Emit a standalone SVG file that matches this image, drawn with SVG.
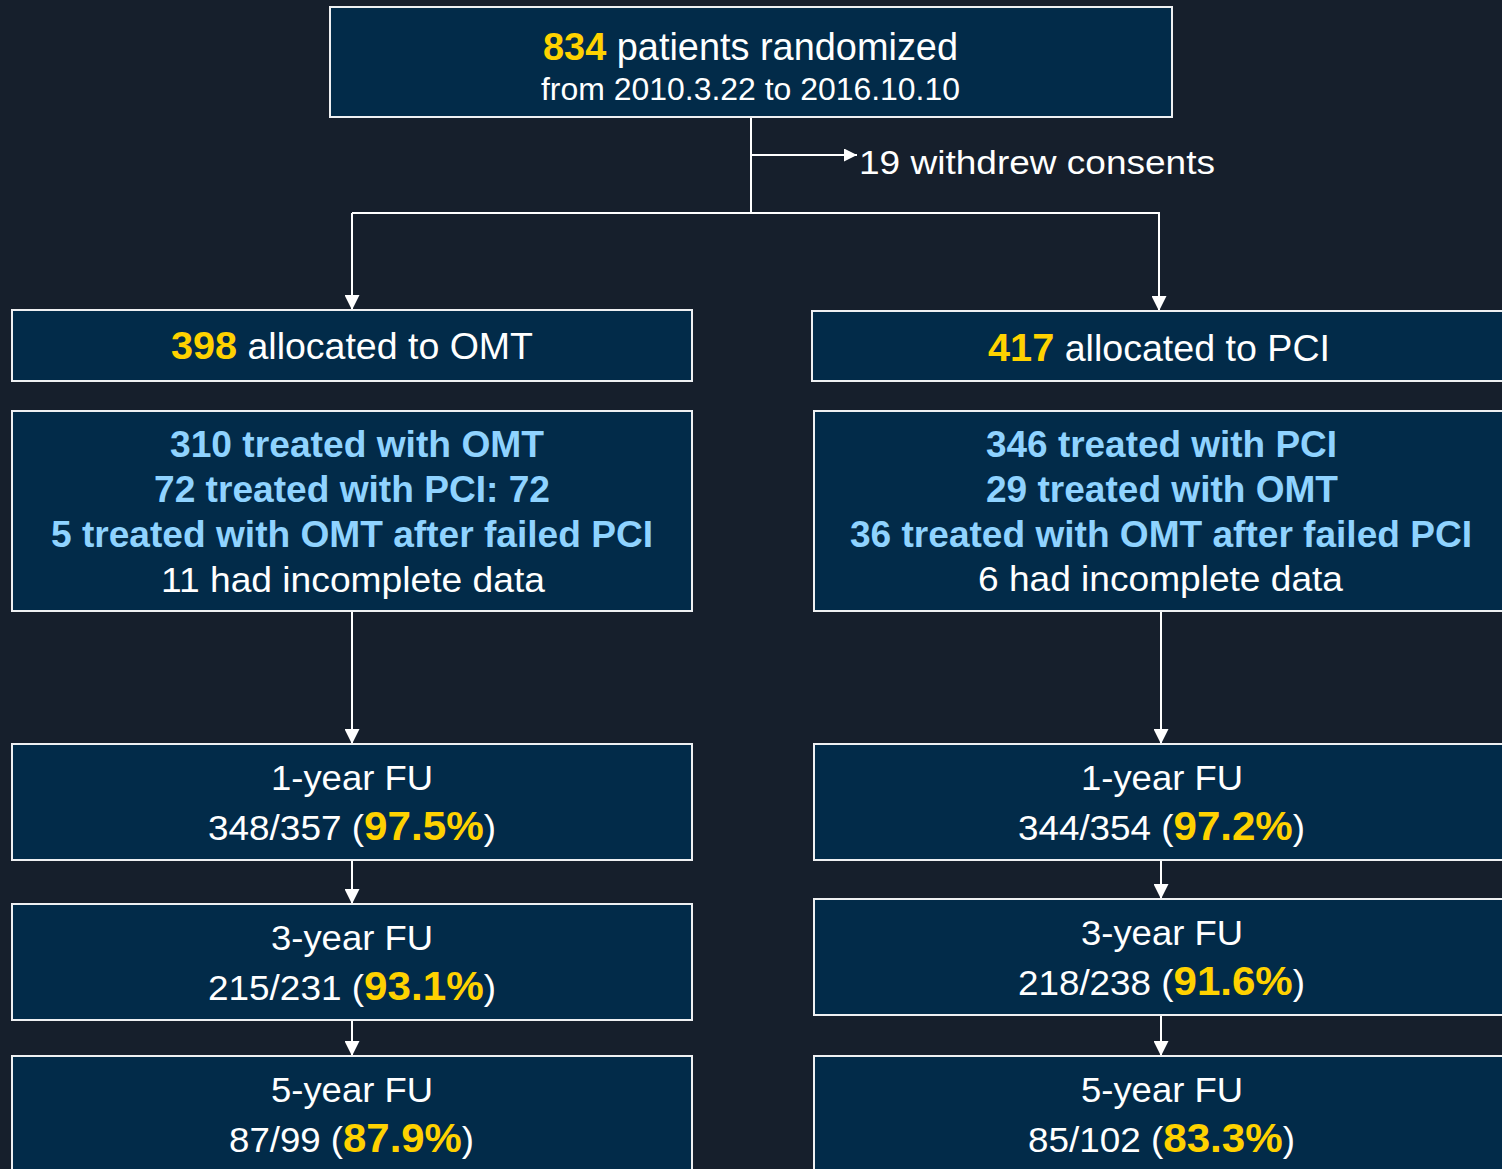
<svg xmlns="http://www.w3.org/2000/svg" width="1502" height="1169" viewBox="0 0 1502 1169">
<style>
.bg{fill:#161f2c}
.box{fill:#022b49;stroke:#eef0f2;stroke-width:2}
text{font-family:"Liberation Sans",Arial,sans-serif;fill:#ffffff}
.b{font-weight:bold}
.y{fill:#ffd200;font-weight:bold}
.lb{fill:#8fd3ff;font-weight:bold}
.conn{fill:none;stroke:#ffffff;stroke-width:2}
</style>
<defs>
<marker id="ah" viewBox="0 0 10 10" refX="10" refY="5" markerUnits="userSpaceOnUse" markerWidth="15" markerHeight="15" orient="auto">
<path d="M0,0 L10,5 L0,10 z" fill="#ffffff"/>
</marker>
<marker id="ahs" viewBox="0 0 10 10" refX="10" refY="5" markerUnits="userSpaceOnUse" markerWidth="13" markerHeight="13" orient="auto">
<path d="M0,0 L10,5 L0,10 z" fill="#ffffff"/>
</marker>
</defs>
<rect class="bg" x="0" y="0" width="1502" height="1169"/>

<g id="connectors">
<path class="conn" d="M751,118 V213"/>
<path class="conn" d="M751,155 H857" marker-end="url(#ahs)"/>
<path class="conn" d="M352,213 H1160"/>
<path class="conn" d="M352,213 V310" marker-end="url(#ah)"/>
<path class="conn" d="M1159,213 V311" marker-end="url(#ah)"/>
<path class="conn" d="M352,611 V744" marker-end="url(#ah)"/>
<path class="conn" d="M352,860 V904" marker-end="url(#ah)"/>
<path class="conn" d="M352,1020 V1056" marker-end="url(#ah)"/>
<path class="conn" d="M1161,611 V744" marker-end="url(#ah)"/>
<path class="conn" d="M1161,860 V899" marker-end="url(#ah)"/>
<path class="conn" d="M1161,1015 V1056" marker-end="url(#ah)"/>
</g>

<g id="randomized">
<rect class="box" x="330" y="7" width="842" height="110"/>
<text x="543" y="60" font-size="39" textLength="415" lengthAdjust="spacingAndGlyphs"><tspan class="y">834</tspan> patients randomized</text>
<text x="541" y="100" font-size="32" textLength="419" lengthAdjust="spacingAndGlyphs">from 2010.3.22 to 2016.10.10</text>
</g>

<g id="withdrew">
<text x="859" y="174" font-size="34" textLength="356" lengthAdjust="spacingAndGlyphs">19 withdrew consents</text>
</g>

<g id="alloc-omt">
<rect class="box" x="12" y="310" width="680" height="71"/>
<text x="171" y="359" font-size="36" textLength="362" lengthAdjust="spacingAndGlyphs"><tspan class="y" font-size="38">398</tspan> allocated to OMT</text>
</g>

<g id="alloc-pci">
<rect class="box" x="812" y="311" width="700" height="70"/>
<text x="988" y="361" font-size="36" textLength="342" lengthAdjust="spacingAndGlyphs"><tspan class="y" font-size="38">417</tspan> allocated to PCI</text>
</g>

<g id="treat-omt">
<rect class="box" x="12" y="411" width="680" height="200"/>
<text class="lb" x="170" y="457" font-size="37" textLength="374" lengthAdjust="spacingAndGlyphs">310 treated with OMT</text>
<text class="lb" x="154" y="502" font-size="37" textLength="396" lengthAdjust="spacingAndGlyphs">72 treated with PCI: 72</text>
<text class="lb" x="51" y="547" font-size="37" textLength="602" lengthAdjust="spacingAndGlyphs">5 treated with OMT after failed PCI</text>
<text x="161" y="592" font-size="35" textLength="384" lengthAdjust="spacingAndGlyphs">11 had incomplete data</text>
</g>

<g id="treat-pci">
<rect class="box" x="814" y="411" width="700" height="200"/>
<text class="lb" x="986" y="457" font-size="37" textLength="351" lengthAdjust="spacingAndGlyphs">346 treated with PCI</text>
<text class="lb" x="986" y="502" font-size="37" textLength="352" lengthAdjust="spacingAndGlyphs">29 treated with OMT</text>
<text class="lb" x="850" y="547" font-size="37" textLength="622" lengthAdjust="spacingAndGlyphs">36 treated with OMT after failed PCI</text>
<text x="978" y="591" font-size="35" textLength="365" lengthAdjust="spacingAndGlyphs">6 had incomplete data</text>
</g>

<g id="fu1-omt">
<rect class="box" x="12" y="744" width="680" height="116"/>
<text x="271" y="790" font-size="35" textLength="162" lengthAdjust="spacingAndGlyphs">1-year FU</text>
<text x="208" y="840" font-size="35" textLength="288" lengthAdjust="spacingAndGlyphs">348/357 (<tspan class="y" font-size="40">97.5%</tspan>)</text>
</g>

<g id="fu3-omt">
<rect class="box" x="12" y="904" width="680" height="116"/>
<text x="271" y="950" font-size="35" textLength="162" lengthAdjust="spacingAndGlyphs">3-year FU</text>
<text x="208" y="1000" font-size="35" textLength="288" lengthAdjust="spacingAndGlyphs">215/231 (<tspan class="y" font-size="40">93.1%</tspan>)</text>
</g>

<g id="fu5-omt">
<rect class="box" x="12" y="1056" width="680" height="130"/>
<text x="271" y="1102" font-size="35" textLength="162" lengthAdjust="spacingAndGlyphs">5-year FU</text>
<text x="229" y="1152" font-size="35" textLength="245" lengthAdjust="spacingAndGlyphs">87/99 (<tspan class="y" font-size="40">87.9%</tspan>)</text>
</g>

<g id="fu1-pci">
<rect class="box" x="814" y="744" width="700" height="116"/>
<text x="1081" y="790" font-size="35" textLength="162" lengthAdjust="spacingAndGlyphs">1-year FU</text>
<text x="1018" y="840" font-size="35" textLength="287" lengthAdjust="spacingAndGlyphs">344/354 (<tspan class="y" font-size="40">97.2%</tspan>)</text>
</g>

<g id="fu3-pci">
<rect class="box" x="814" y="899" width="700" height="116"/>
<text x="1081" y="945" font-size="35" textLength="162" lengthAdjust="spacingAndGlyphs">3-year FU</text>
<text x="1018" y="995" font-size="35" textLength="287" lengthAdjust="spacingAndGlyphs">218/238 (<tspan class="y" font-size="40">91.6%</tspan>)</text>
</g>

<g id="fu5-pci">
<rect class="box" x="814" y="1056" width="700" height="130"/>
<text x="1081" y="1102" font-size="35" textLength="162" lengthAdjust="spacingAndGlyphs">5-year FU</text>
<text x="1028" y="1152" font-size="35" textLength="267" lengthAdjust="spacingAndGlyphs">85/102 (<tspan class="y" font-size="40">83.3%</tspan>)</text>
</g>
</svg>
